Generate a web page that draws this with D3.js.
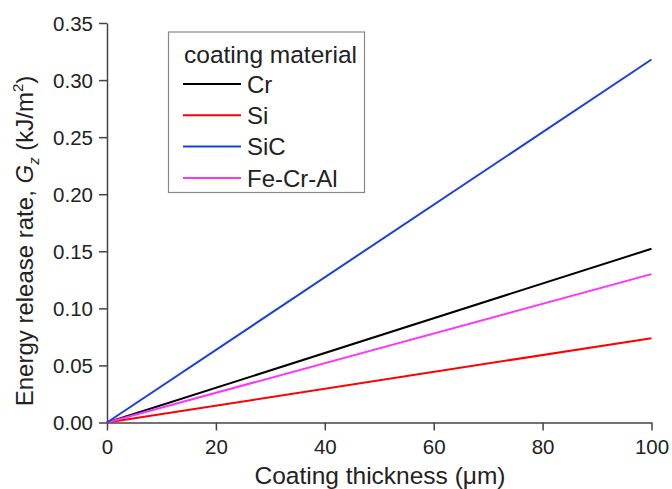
<!DOCTYPE html>
<html>
<head>
<meta charset="utf-8">
<script src="https://cdn.jsdelivr.net/npm/d3@7"></script>
<style>
  body { margin: 0; background: #fff; }
  text { font-family: "Liberation Sans", Arial, sans-serif; fill: #222; }
</style>
</head>
<body>
<div id="chart"></div>
<script>
// values
var thickness = [0, 100];
var materials = ["Cr", "Si", "SiC", "Fe-Cr-Al"];
var colors = ["#000000", "#ff0000", "#1a3fe0", "#ff33ff"];
var crValues = [0, 0.1522];
var siValues = [0, 0.0739];
var sicValues = [0, 0.318];
var fecralValues = [0, 0.130];
var xTicks = [0, 20, 40, 60, 80, 100];
var yTicks = [0, 0.05, 0.10, 0.15, 0.20, 0.25, 0.30, 0.35];

var width = 672, height = 489;
var margin = {left: 107, right: 20, top: 23, bottom: 66};

var svg = d3.select("#chart").append("svg").attr("width", width).attr("height", height);

var x = d3.scaleLinear().domain([0, 100]).range([margin.left, 651.5]);
var y = d3.scaleLinear().domain([0, 0.35]).range([422.5, margin.top]);

var xAxis = svg.append("g")
    .attr("transform", "translate(0," + y(0) + ")")
    .call(d3.axisBottom(x).tickValues(xTicks).tickSize(8).tickSizeOuter(0).tickPadding(9));
var yAxis = svg.append("g")
    .attr("transform", "translate(" + x(0) + ",0)")
    .call(d3.axisLeft(y).tickValues(yTicks).tickSize(8).tickSizeOuter(0).tickPadding(6).tickFormat(d3.format(".2f")));

[xAxis, yAxis].forEach(function(a) {
    a.selectAll("path, line").attr("stroke", "#444").attr("stroke-width", 1.5);
    a.selectAll("text").style("font-size", "20.5px").attr("fill", "#222");
});
yAxis.selectAll("text").attr("dy", "0.36em");

var series = [crValues, siValues, sicValues, fecralValues];
var line = d3.line().x(function(d, i) { return x(thickness[i]); }).y(function(d) { return y(d); });

// draw in the order that leaves black under the coloured ones near the origin
[0, 1, 3, 2].forEach(function(i) {
    svg.append("path")
        .datum(series[i])
        .attr("fill", "none")
        .attr("stroke", colors[i])
        .attr("stroke-width", 2)
        .attr("d", line);
});

// axis titles
svg.append("text")
    .attr("x", 380)
    .attr("y", 484)
    .attr("text-anchor", "middle")
    .style("font-size", "24.5px")
    .text("Coating thickness (\u03bcm)");

var yt = svg.append("text")
    .attr("transform", "translate(33,241) rotate(-90)")
    .attr("text-anchor", "middle")
    .style("font-size", "24px");
yt.append("tspan").text("Energy release rate, ");
yt.append("tspan").style("font-style", "italic").text("G");
yt.append("tspan").style("font-style", "italic").style("font-size", "15px").attr("dy", 6).text("z");
yt.append("tspan").attr("dy", -6).text(" (kJ/m");
yt.append("tspan").style("font-size", "15px").attr("dy", -10).text("2");
yt.append("tspan").attr("dy", 10).text(")");

// legend
var legend = svg.append("g");
legend.append("rect")
    .attr("x", 168.5).attr("y", 32)
    .attr("width", 196).attr("height", 160.5)
    .attr("fill", "#fff")
    .attr("stroke", "#888")
    .attr("stroke-width", 1.2);
legend.append("text")
    .attr("x", 184).attr("y", 63)
    .style("font-size", "24.5px")
    .text("coating material");

materials.forEach(function(m, i) {
    var ly = 84 + i * 31.3;
    legend.append("line")
        .attr("x1", 183).attr("x2", 241)
        .attr("y1", ly).attr("y2", ly)
        .attr("stroke", colors[i])
        .attr("stroke-width", 2);
    legend.append("text")
        .attr("x", 247).attr("y", ly)
        .attr("dy", "0.36em")
        .style("font-size", "24px")
        .text(m);
});
</script>
</body>
</html>
